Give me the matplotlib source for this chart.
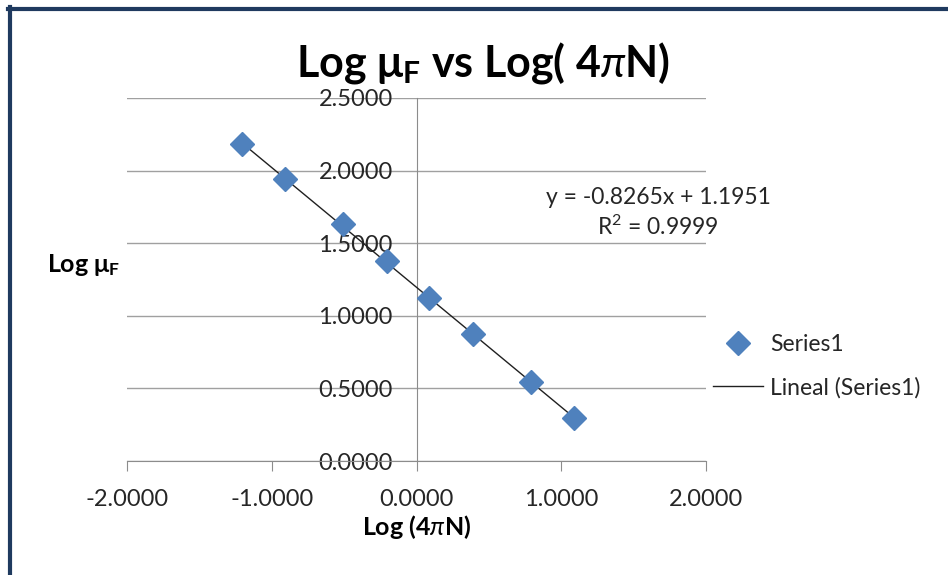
import numpy as np
import matplotlib
matplotlib.use('Agg')
import matplotlib.pyplot as plt
from matplotlib.lines import Line2D

# data
log_4piN = [-1.208, -0.908, -0.510, -0.206, 0.088, 0.392, 0.791, 1.088]
log_muF = [2.181, 1.942, 1.632, 1.375, 1.120, 0.875, 0.542, 0.294]
x_ticks = [-2, -1, 0, 1, 2]
y_ticks = [0, 0.5, 1.0, 1.5, 2.0, 2.5]
eq_text = "y = -0.8265x + 1.1951"
r2_text = "R$\\mathregular{^2}$ = 0.9999"

plt.rcParams['font.family'] = ['Lato', 'DejaVu Sans']
plt.rcParams['mathtext.fontset'] = 'custom'
plt.rcParams['mathtext.rm'] = 'Lato'
plt.rcParams['mathtext.it'] = 'Lato:italic'
plt.rcParams['mathtext.bf'] = 'Lato:bold'

blue = '#4F81BD'
grid_c = '#A0A0A0'
txt_c = '#262626'

fig = plt.figure(figsize=(9.48, 5.75), dpi=100)
ax = fig.add_axes([127/948, 1-461/575, 579/948, 363/575])

# fit line over data range (Excel style trendline)
m, b = np.polyfit(log_4piN, log_muF, 1)
xs = np.array([min(log_4piN), max(log_4piN)])
ax.plot(xs, m*xs + b, color='#202020', lw=1.0, zorder=3, label='Lineal (Series1)')
ax.plot(log_4piN, log_muF, 'D', color=blue, ms=12, mec=blue, zorder=4, label='Series1',
        linestyle='none')

ax.set_xlim(-2, 2)
ax.set_ylim(0, 2.5)
ax.set_xticks(x_ticks)
ax.set_yticks(y_ticks)
ax.set_xticklabels(["%.4f" % v for v in x_ticks])
ax.set_yticklabels(["%.4f" % v for v in y_ticks])

for s in ['top', 'right']:
    ax.spines[s].set_visible(False)
ax.spines['left'].set_position(('data', 0))
ax.spines['left'].set_color('#8C8C8C')
ax.spines['bottom'].set_color('#8C8C8C')
ax.yaxis.grid(True, color=grid_c, lw=1.0)
ax.set_axisbelow(True)
ax.tick_params(axis='y', length=0, pad=17, labelsize=17, labelcolor=txt_c)
ax.tick_params(axis='x', length=7, color='#8C8C8C', direction='out', pad=13,
               labelsize=17, labelcolor=txt_c)

# trendline equation
fig.text(658/948, 1-197/575, eq_text, ha='center', va='center', fontsize=16.5, color=txt_c)
fig.text(658/948, 1-227/575, r2_text, ha='center', va='center', fontsize=16.5, color=txt_c)

# legend on the right, line entry under marker entry
handles, labels = ax.get_legend_handles_labels()
leg = fig.legend(handles[::-1], labels[::-1], loc='center left',
                 bbox_to_anchor=(713/948, 1-366/575), frameon=False, fontsize=16.5,
                 handlelength=2.2, handletextpad=0.3, labelspacing=0.95,
                 borderpad=0, borderaxespad=0, labelcolor=txt_c)

# titles
fig.text(483/948, 1-77/575, "Log \u03bc$_\\mathregular{F}$ vs Log( 4$\\pi$N)",
         ha='center', va='baseline', fontsize=31, fontweight='bold')
fig.text(47/948, 1-272/575, "Log \u03bc$_\\mathregular{F}$", ha='left', va='baseline',
         fontsize=18, fontweight='bold')
fig.text(417/948, 1-535/575, "Log (4$\\pi$N)", ha='center', va='baseline',
         fontsize=18, fontweight='bold')

# dark frame edges at top and left
fig.add_artist(Line2D([8/948, 1], [1-8.5/575, 1-8.5/575], color='#1F3A5F', lw=3,
                      transform=fig.transFigure))
fig.add_artist(Line2D([9.5/948, 9.5/948], [0, 1-7/575], color='#1F3A5F', lw=3,
                      transform=fig.transFigure))

fig.savefig('out.png', dpi=100)
